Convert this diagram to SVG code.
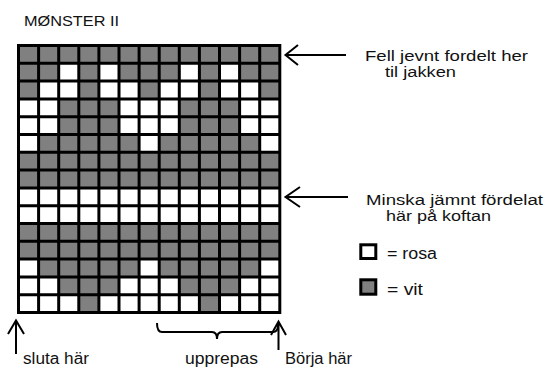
<svg xmlns="http://www.w3.org/2000/svg" xmlns:xlink="http://www.w3.org/1999/xlink" width="547" height="369" viewBox="0 0 547 369">
  <style>
    text { font-family: "Liberation Sans", Arial, sans-serif; font-size: 16px; fill: #111; }
    .two { font-size: 15.5px; }
    .title { font-size: 15.5px; }
    .g { fill: #808080; }
    .w { fill: #ffffff; }
    .gridline { fill: none; stroke: #000; stroke-width: 3; }
    .arrow { fill: none; stroke: #000; stroke-width: 2; stroke-linecap: butt; stroke-linejoin: miter; }
    .box { stroke: #000; stroke-width: 3; }
  </style>
  <rect x="0" y="0" width="547" height="369" fill="#fff"/>

  <g id="title">
    <text class="title" x="24" y="26" textLength="95" lengthAdjust="spacingAndGlyphs">MØNSTER II</text>
  </g>

  <g id="chart">
    <rect class="g" x="18.5" y="45.5" width="261.3" height="267"/>
    <rect class="w" x="18.5" y="187.9" width="261.3" height="35.6"/>
    <rect class="w" x="18.5" y="98.9" width="20.1" height="53.4"/>
    <rect class="w" x="18.5" y="259.1" width="20.1" height="53.4"/>
    <rect class="w" x="38.6" y="81.1" width="20.1" height="53.4"/>
    <rect class="w" x="38.6" y="276.9" width="20.1" height="35.6"/>
    <rect class="w" x="58.7" y="63.3" width="20.1" height="35.6"/>
    <rect class="w" x="58.7" y="294.7" width="20.1" height="17.8"/>
    <rect class="w" x="98.9" y="63.3" width="20.1" height="35.6"/>
    <rect class="w" x="98.9" y="294.7" width="20.1" height="17.8"/>
    <rect class="w" x="119" y="81.1" width="20.1" height="53.4"/>
    <rect class="w" x="119" y="276.9" width="20.1" height="35.6"/>
    <rect class="w" x="139.1" y="98.9" width="20.1" height="53.4"/>
    <rect class="w" x="139.1" y="259.1" width="20.1" height="53.4"/>
    <rect class="w" x="159.2" y="81.1" width="20.1" height="53.4"/>
    <rect class="w" x="159.2" y="276.9" width="20.1" height="35.6"/>
    <rect class="w" x="179.3" y="63.3" width="20.1" height="35.6"/>
    <rect class="w" x="179.3" y="294.7" width="20.1" height="17.8"/>
    <rect class="w" x="219.5" y="63.3" width="20.1" height="35.6"/>
    <rect class="w" x="219.5" y="294.7" width="20.1" height="17.8"/>
    <rect class="w" x="239.6" y="81.1" width="20.1" height="53.4"/>
    <rect class="w" x="239.6" y="276.9" width="20.1" height="35.6"/>
    <rect class="w" x="259.7" y="98.9" width="20.1" height="53.4"/>
    <rect class="w" x="259.7" y="259.1" width="20.1" height="53.4"/>
    <path class="gridline" d="M38.6,45.5V312.5M58.7,45.5V312.5M78.8,45.5V312.5M98.9,45.5V312.5M119,45.5V312.5M139.1,45.5V312.5M159.2,45.5V312.5M179.3,45.5V312.5M199.4,45.5V312.5M219.5,45.5V312.5M239.6,45.5V312.5M259.7,45.5V312.5
      M18.5,63.3H279.8M18.5,81.1H279.8M18.5,98.9H279.8M18.5,116.7H279.8M18.5,134.5H279.8M18.5,152.3H279.8M18.5,170.1H279.8M18.5,187.9H279.8M18.5,205.7H279.8M18.5,223.5H279.8M18.5,241.3H279.8M18.5,259.1H279.8M18.5,276.9H279.8M18.5,294.7H279.8"/>
    <rect class="gridline" x="18.5" y="45.5" width="261.3" height="267"/>
  </g>

  <g id="connectors">
    <path class="arrow" d="M285.5,55H346M298,45L285.5,55L298,65"/>
    <path class="arrow" d="M285.5,197H348M300,187L285.5,197L300,207"/>
    <path class="arrow" d="M16,321V354M8,334L16,320.5L24,334"/>
    <path class="arrow" d="M278.5,322V350M271,335L278.5,321.5L286,335"/>
    <path class="arrow" stroke-width="2.5" d="M157,323Q157,332 162,332H212Q217,332 217,339Q217,332 222,332H273Q278,332 278,325"/>
  </g>

  <g id="label-fell">
    <text class="two" x="365" y="60.5" textLength="163" lengthAdjust="spacingAndGlyphs">Fell jevnt fordelt her</text>
    <text class="two" x="385" y="76.5" textLength="71" lengthAdjust="spacingAndGlyphs">til jakken</text>
  </g>
  <g id="label-minska">
    <text class="two" x="366" y="204.5" textLength="177" lengthAdjust="spacingAndGlyphs">Minska jämnt fördelat</text>
    <text class="two" x="386" y="220.5" textLength="105" lengthAdjust="spacingAndGlyphs">här på koftan</text>
  </g>
  <g id="legend-rosa">
    <rect class="box" x="360.8" y="244.8" width="15" height="13.7" fill="#fff"/>
    <text x="387" y="258.5" textLength="50" lengthAdjust="spacingAndGlyphs">= rosa</text>
  </g>
  <g id="legend-vit">
    <rect class="box" x="360.8" y="279.8" width="15" height="14.4" fill="#808080"/>
    <text x="387" y="294.5" textLength="36" lengthAdjust="spacingAndGlyphs">= vit</text>
  </g>
  <g id="label-sluta">
    <text x="23" y="364" textLength="66" lengthAdjust="spacingAndGlyphs">sluta här</text>
  </g>
  <g id="label-upprepas">
    <text x="185" y="364" textLength="73" lengthAdjust="spacingAndGlyphs">upprepas</text>
  </g>
  <g id="label-borja">
    <text x="285" y="364" textLength="67" lengthAdjust="spacingAndGlyphs">Börja här</text>
  </g>
</svg>
